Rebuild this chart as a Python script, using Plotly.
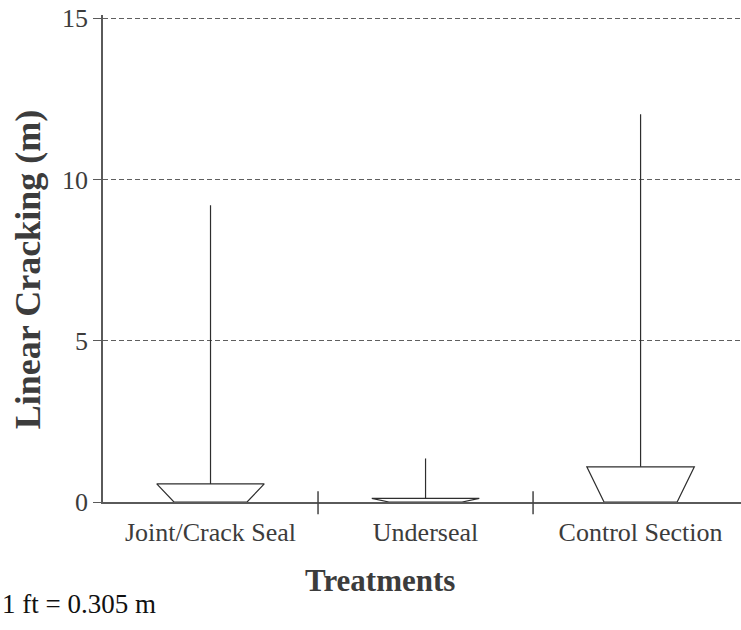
import plotly.graph_objects as go

# Treatment groups and linear cracking summaries (m)
treatments = ["Joint/Crack Seal", "Underseal", "Control Section"]
box_top = [0.56, 0.11, 1.09]      # upper edge of the trapezoid
max_crack = [9.2, 1.35, 12.02]    # maximum observed cracking

y_ticks = [0, 5, 10, 15]

TOP_HALF = 0.25
BOT_HALF = 0.17
INK = "#2e2e2e"
AXIS = "#5a5a5a"
TEXT = "#3c3c3c"
SERIF = "Liberation Serif, Times New Roman, serif"

fig = go.Figure()

for i, name in enumerate(treatments):
    # inverted trapezoid from zero up to the box top
    fig.add_trace(go.Scatter(
        x=[i - BOT_HALF, i - TOP_HALF, i + TOP_HALF, i + BOT_HALF, i - BOT_HALF],
        y=[0, box_top[i], box_top[i], 0, 0],
        mode="lines", fill="toself", fillcolor="white",
        line=dict(color=INK, width=1.2), hoverinfo="skip", showlegend=False,
    ))
    # whisker up to the maximum
    fig.add_trace(go.Scatter(
        x=[i, i], y=[box_top[i], max_crack[i]],
        mode="lines", line=dict(color=INK, width=1.2),
        name=name, showlegend=False,
    ))

# category separator ticks crossing the baseline
for b in [0.5, 1.5]:
    fig.add_shape(type="line", xref="x", yref="paper", x0=b, x1=b,
                  y0=-0.025, y1=0.022, line=dict(color="#444444", width=1.5))

# axis titles and unit note
fig.add_annotation(text="<b>Treatments</b>", xref="paper", yref="paper",
                   x=0.434, y=-0.161, showarrow=False,
                   xanchor="center", yanchor="middle",
                   font=dict(family=SERIF, size=31, color=TEXT))
fig.add_annotation(text="<b>Linear Cracking (m)</b>", xref="paper", yref="paper",
                   x=-0.1176, y=0.478, showarrow=False, textangle=-90,
                   xanchor="center", yanchor="middle",
                   font=dict(family=SERIF, size=36, color=TEXT))
fig.add_annotation(text="1 ft = 0.305 m", xref="paper", yref="paper",
                   x=-103 / 638, y=-0.209, xanchor="left", yanchor="middle",
                   showarrow=False,
                   font=dict(family=SERIF, size=27, color="#111111"))

fig.update_layout(
    width=741, height=630,
    margin=dict(l=103, r=0, t=15, b=128),
    paper_bgcolor="white", plot_bgcolor="white",
    xaxis=dict(
        range=[-0.5, 2.467], tickmode="array",
        tickvals=list(range(len(treatments))), ticktext=treatments,
        ticks="", showgrid=False, zeroline=False,
        showline=True, linecolor=AXIS, linewidth=1.5,
        tickfont=dict(family=SERIF, size=26, color=TEXT),
        ticklabelstandoff=6,
    ),
    yaxis=dict(
        range=[0, 15.1], tickmode="array", tickvals=y_ticks,
        ticks="outside", ticklen=8, tickcolor=AXIS, tickwidth=1.2,
        showgrid=True, gridcolor="#5f5f5f", griddash="5px,3px", gridwidth=1,
        zeroline=False, showline=True, linecolor=AXIS, linewidth=1.5,
        tickfont=dict(family=SERIF, size=26, color=TEXT),
        ticklabelstandoff=0,
    ),
)

fig.write_html("out.html")
